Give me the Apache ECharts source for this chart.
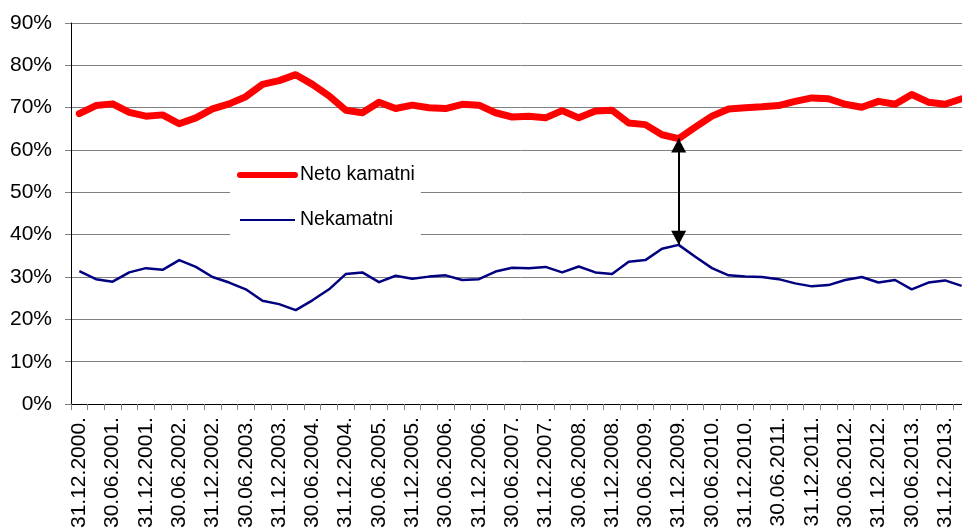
<!DOCTYPE html>
<html>
<head>
<meta charset="utf-8">
<script src="https://cdn.jsdelivr.net/npm/echarts@6/dist/echarts.min.js"></script>
<style>
  html, body { margin: 0; padding: 0; background: #fff; overflow: hidden; }
  /* grafikon je u izvorniku odrezan s desne strane */
  #chart { width: 970px; height: 531px; }
</style>
</head>
<body>
<div id="chart"></div>
<script>
  // kvartalni datumi
  var dates = [
    '31.12.2000.', '31.03.2001.', '30.06.2001.', '30.09.2001.',
    '31.12.2001.', '31.03.2002.', '30.06.2002.', '30.09.2002.',
    '31.12.2002.', '31.03.2003.', '30.06.2003.', '30.09.2003.',
    '31.12.2003.', '31.03.2004.', '30.06.2004.', '30.09.2004.',
    '31.12.2004.', '31.03.2005.', '30.06.2005.', '30.09.2005.',
    '31.12.2005.', '31.03.2006.', '30.06.2006.', '30.09.2006.',
    '31.12.2006.', '31.03.2007.', '30.06.2007.', '30.09.2007.',
    '31.12.2007.', '31.03.2008.', '30.06.2008.', '30.09.2008.',
    '31.12.2008.', '31.03.2009.', '30.06.2009.', '30.09.2009.',
    '31.12.2009.', '31.03.2010.', '30.06.2010.', '30.09.2010.',
    '31.12.2010.', '31.03.2011.', '30.06.2011.', '30.09.2011.',
    '31.12.2011.', '31.03.2012.', '30.06.2012.', '30.09.2012.',
    '31.12.2012.', '31.03.2013.', '30.06.2013.', '30.09.2013.',
    '31.12.2013.', '31.03.2014.'
  ];
  // udio neto kamatnih prihoda (%)
  var netoKamatni = [
    68.6, 70.5, 70.9, 68.9, 68.0, 68.3, 66.2, 67.6, 69.7, 70.9,
    72.6, 75.5, 76.4, 77.8, 75.5, 72.8, 69.4, 68.8, 71.3, 69.8,
    70.6, 70.0, 69.8, 70.8, 70.6, 68.8, 67.8, 68.0, 67.6, 69.3,
    67.6, 69.2, 69.4, 66.4, 66.0, 63.6, 62.7, 65.4, 68.0, 69.7,
    70.0, 70.2, 70.5, 71.5, 72.3, 72.1, 70.8, 70.1, 71.5, 70.8,
    73.1, 71.3, 70.8, 72.1
  ];
  // udio nekamatnih prihoda (%)
  var nekamatni = [
    31.4, 29.5, 28.9, 31.1, 32.1, 31.7, 34.0, 32.4, 30.0, 28.7,
    27.1, 24.4, 23.6, 22.2, 24.5, 27.1, 30.7, 31.1, 28.8, 30.3,
    29.6, 30.1, 30.4, 29.3, 29.5, 31.3, 32.2, 32.1, 32.4, 31.1,
    32.5, 31.1, 30.7, 33.6, 34.0, 36.7, 37.6, 34.8, 32.1, 30.4,
    30.1, 30.0, 29.5, 28.5, 27.8, 28.1, 29.3, 30.0, 28.7, 29.3,
    27.1, 28.7, 29.2, 27.9
  ];
  var seriesNames = ['Neto kamatni', 'Nekamatni'];
  var arrowIdx = 36; // 31.12.2009.

  var myChart = echarts.init(document.getElementById('chart'));
  var font = '"Liberation Sans", Arial, sans-serif';

  var option = {
    animation: false,
    backgroundColor: '#fff',
    textStyle: { fontFamily: font },
    grid: { left: 71, top: 23, right: 0, bottom: 126 },
    legend: {
      data: [
        { name: seriesNames[0], lineStyle: { width: 6, cap: 'round' } },
        { name: seriesNames[1], lineStyle: { width: 2 } }
      ],
      orient: 'vertical',
      left: 230,
      top: 155,
      padding: [10, 6, 25, 7],
      backgroundColor: '#fff',
      itemWidth: 55,
      itemHeight: 14,
      itemGap: 25,
      itemStyle: { opacity: 0 },
      textStyle: { fontFamily: font, fontSize: 19.5, color: '#000' }
    },
    xAxis: {
      type: 'category',
      data: dates,
      boundaryGap: true,
      axisLine: { lineStyle: { color: '#000', width: 1 } },
      axisTick: { show: true, interval: 0, length: 6, lineStyle: { color: '#888' } },
      axisLabel: {
        interval: 1,
        rotate: 90,
        margin: 13,
        color: '#000',
        fontSize: 21,
        fontFamily: font
      },
      splitLine: { show: false }
    },
    yAxis: {
      type: 'value',
      min: 0,
      max: 90,
      interval: 10,
      axisLine: { show: true, lineStyle: { color: '#000', width: 1 } },
      axisTick: { show: true, length: 6, lineStyle: { color: '#808080' } },
      axisLabel: {
        formatter: '{value}%',
        margin: 19,
        color: '#000',
        fontSize: 21,
        fontFamily: font
      },
      splitLine: { lineStyle: { color: '#808080', width: 1 } }
    },
    series: [{
      name: seriesNames[0],
      type: 'line',
      data: netoKamatni,
      symbol: 'none',
      itemStyle: { color: '#ff0000' },
      lineStyle: { color: '#ff0000', width: 7, cap: 'round', join: 'round' },
      markLine: {
        silent: true,
        symbol: ['triangle', 'triangle'],
        symbolSize: [15, 14],
        symbolOffset: [[0, 7], [0, 7]],
        label: { show: false },
        lineStyle: { color: '#000', width: 2, type: 'solid' },
        data: [[
          { coord: [dates[arrowIdx], netoKamatni[arrowIdx]] },
          { coord: [dates[arrowIdx], nekamatni[arrowIdx]] }
        ]]
      }
    }, {
      name: seriesNames[1],
      type: 'line',
      data: nekamatni,
      symbol: 'none',
      itemStyle: { color: '#000080' },
      lineStyle: { color: '#000080', width: 2.5, join: 'round' }
    }]
  };
  myChart.setOption(option);
</script>
</body>
</html>
